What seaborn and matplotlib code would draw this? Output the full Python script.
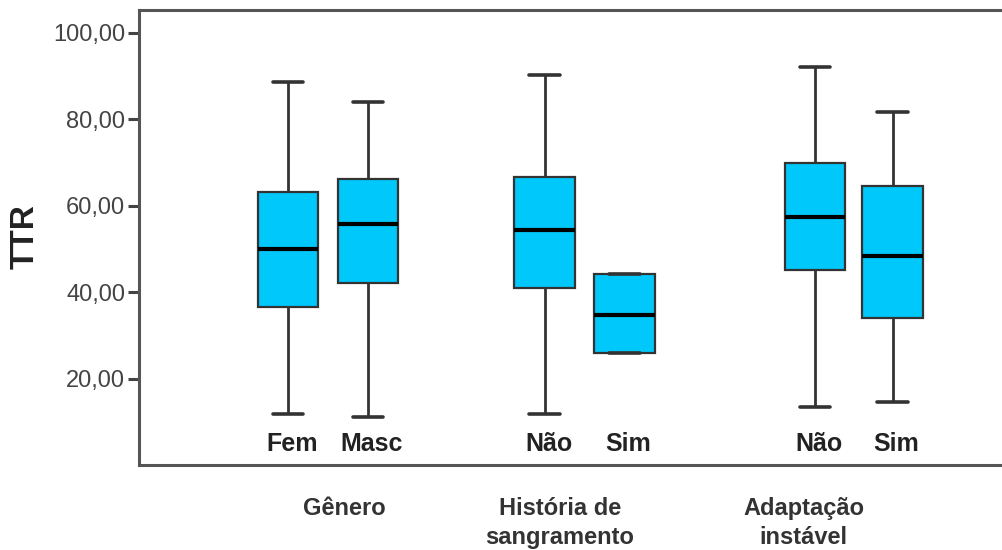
import numpy as np
import pandas as pd
import matplotlib
matplotlib.use("Agg")
import matplotlib.pyplot as plt
import seaborn as sns

# Five-number summaries: min, Q1, median, Q3, max
categories = ["Fem", "Masc", "Não", "Sim", "Não", "Sim"]
positions = [0.0, 1.0, 3.21, 4.21, 6.59, 7.56]
mins    = [11.9, 11.2, 11.9, 25.9, 13.5, 14.5]
q1s     = [36.6, 42.2, 41.0, 25.9, 45.2, 34.0]
medians = [49.9, 55.7, 54.5, 34.7, 57.3, 48.3]
q3s     = [63.2, 66.2, 66.7, 44.1, 69.9, 64.6]
maxs    = [88.6, 84.1, 90.2, 44.1, 92.1, 81.6]

group_labels = ["Gênero", "História de\nsangramento", "Adaptação\ninstável"]
group_centers = [0.7, 3.4, 6.45]
y_ticks = [20, 40, 60, 80, 100]
y_ticklabels = ["20,00", "40,00", "60,00", "80,00", "100,00"]

rows = []
for pos, a, b, c, d, e in zip(positions, mins, q1s, medians, q3s, maxs):
    for v in (a, b, c, d, e):
        rows.append({"pos": pos, "TTR": v})
df = pd.DataFrame(rows)

sns.set_theme(style="white")
plt.rcParams["font.family"] = ["Liberation Sans", "DejaVu Sans"]

fig = plt.figure(figsize=(10.03, 5.5), dpi=100)
ax = fig.add_axes([0.1386, 0.1545, 0.95, 0.9818 - 0.1545])

edge = "#333333"
sns.boxplot(
    data=df, x="pos", y="TTR", native_scale=True, whis=(0, 100),
    color="#00C8FA", saturation=1, width=0.78, ax=ax,
    boxprops=dict(facecolor="#00C8FA", edgecolor=edge, linewidth=1.6),
    whiskerprops=dict(color=edge, linewidth=2.0),
    capprops=dict(color=edge, linewidth=2.6),
    medianprops=dict(color="black", linewidth=3.0),
    showfliers=False,
)

ax.set_xlim(-1.86, -1.86 + 0.95 * 1003 / 80)
ax.set_ylim(0, 105.3)
ax.set_yticks(y_ticks)
ax.set_yticklabels(y_ticklabels)
ax.set_xticks([])
ax.set_xlabel("")
ax.set_ylabel("")

ax.tick_params(axis="y", which="both", left=True, length=8, width=2.2,
               color="#444444", labelsize=17, labelcolor="#444444", pad=2)

for side in ["left", "bottom", "top"]:
    ax.spines[side].set_visible(True)
    ax.spines[side].set_color("#555555")
    ax.spines[side].set_linewidth(2.2)
ax.spines["right"].set_visible(False)

fig.text(25 / 1003, 1 - 237 / 550, "TTR", rotation=90, ha="center", va="center",
         fontsize=24, fontweight="bold", color="#222222")

for pos, lab in zip(positions, categories):
    ax.text(pos + 0.05, 4.8, lab, ha="center", va="center", fontsize=18,
            fontweight="bold", color="#222222")

for xc, lab in zip(group_centers, group_labels):
    ax.text(xc, -0.07, lab, transform=ax.get_xaxis_transform(), ha="center",
            va="top", fontsize=17, fontweight="bold", color="#333333",
            linespacing=1.35)

fig.savefig("out.png", dpi=100)
